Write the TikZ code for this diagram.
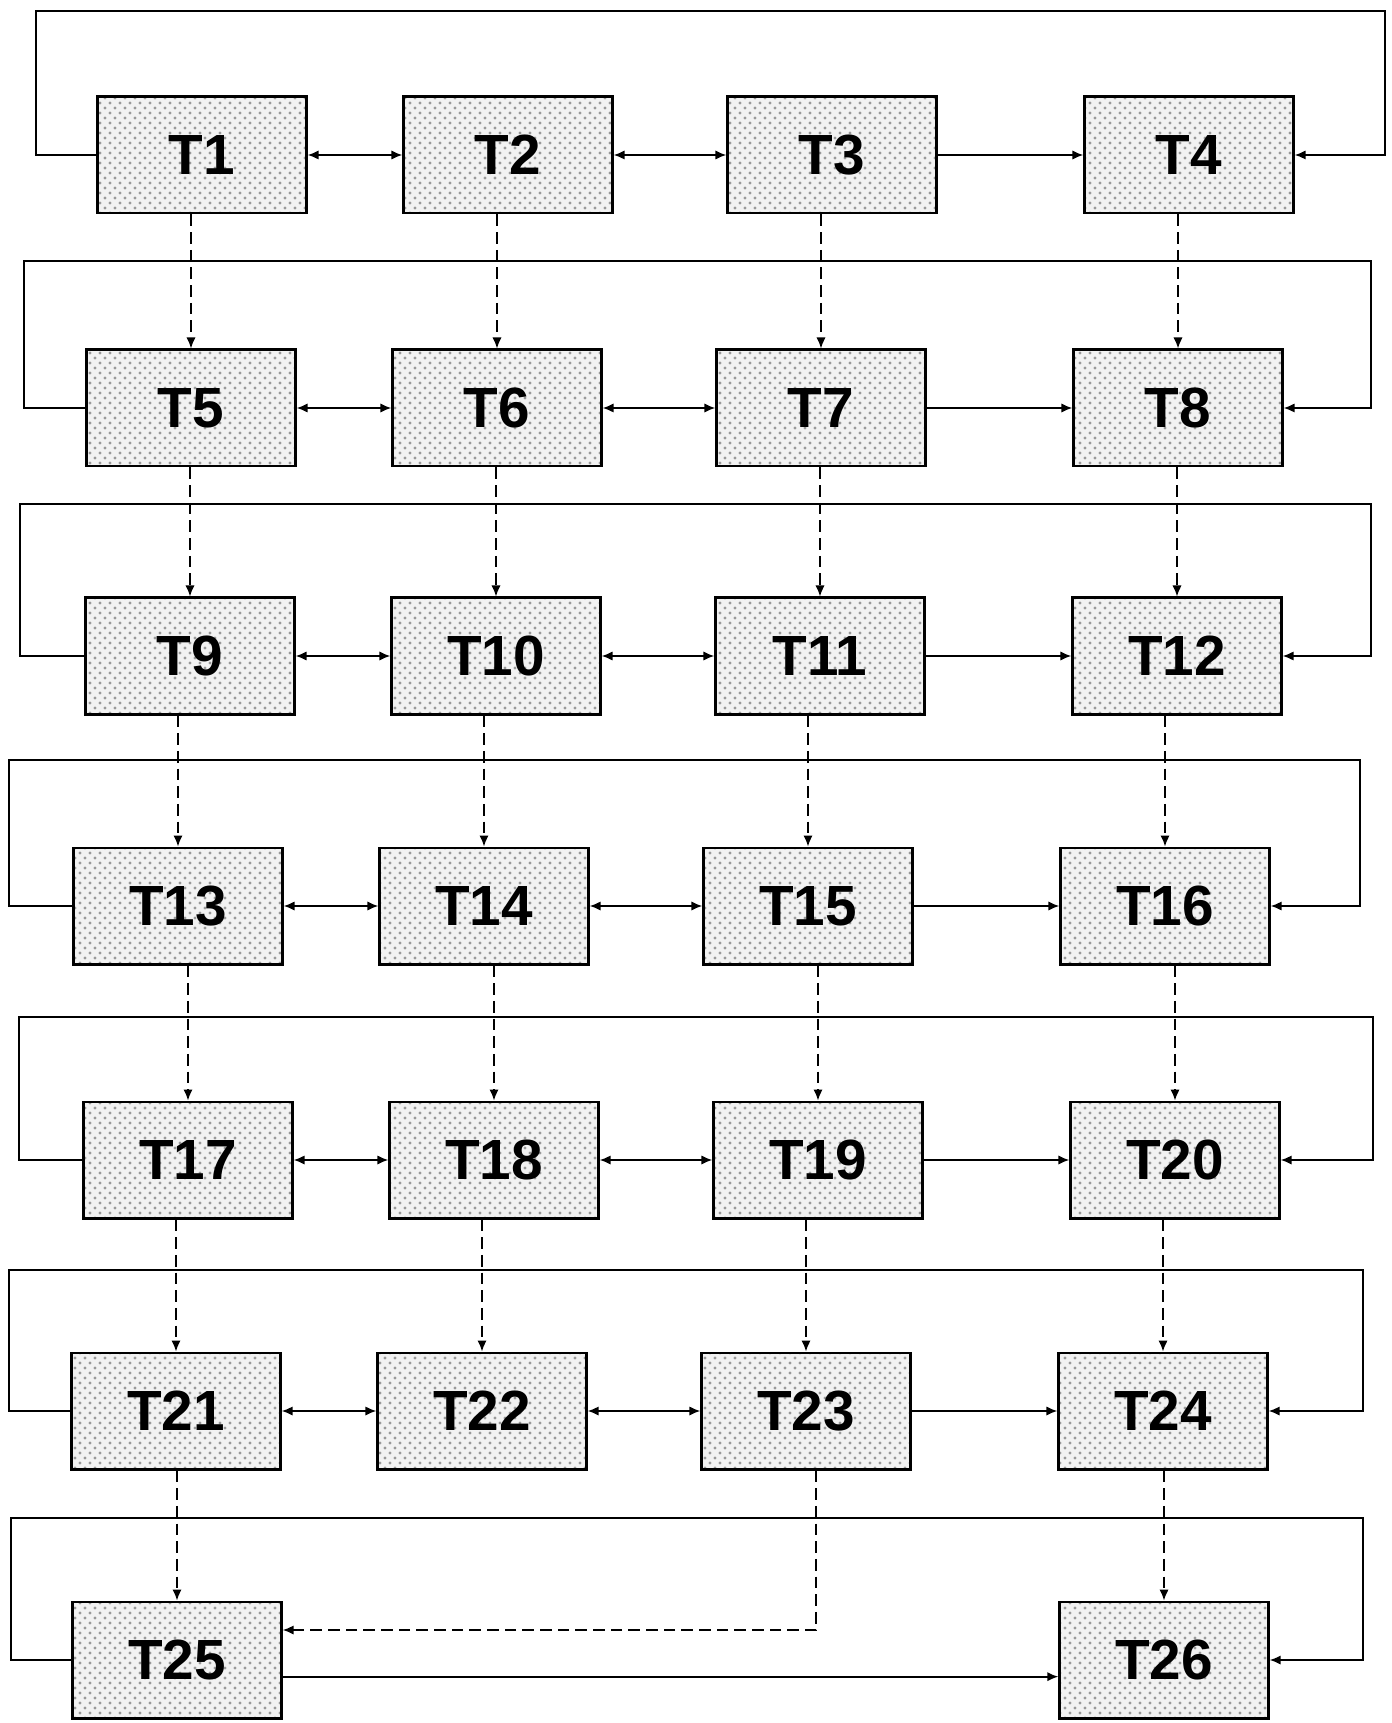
\documentclass[tikz,border=0pt]{standalone}
\usepackage{fontspec}
\setsansfont{Liberation Sans}
\usetikzlibrary{arrows.meta,patterns}

\tikzset{
  tbox/.style={draw, line width=0.7pt, preaction={fill=black!5},
    pattern=crosshatch dots, pattern color=black!40,
    minimum width=62.7pt, minimum height=35pt, inner sep=0pt,
    font=\sffamily\bfseries\fontsize{17}{17}\selectfont},
  link/.style={line width=0.5pt, -{Latex[length=3.3pt,width=2.8pt]}},
  both/.style={line width=0.5pt, {Latex[length=3.3pt,width=2.8pt]}-{Latex[length=3.3pt,width=2.8pt]}},
  flow/.style={line width=0.5pt, dash pattern=on 3.5pt off 1.8pt, -{Latex[length=3.3pt,width=2.8pt]}}
}

\begin{document}
\begin{tikzpicture}[x=0.3pt, y=-0.3pt]
  \useasboundingbox (0,0) rectangle (1391,1723);
  % Boxes, row by row: row / centre y / shift / left rail / right rail / top rail
  \foreach \r/\y/\dx/\lx/\rx/\ty in {1/155/15/36/1385/11, 2/408/4/24/1371/261,
      3/656/3/20/1371/504, 4/906/-9/9/1360/760, 5/1160/1/19/1373/1017,
      6/1411/-11/9/1363/1270} {
    \coordinate (L\r) at (\lx,\ty);
    \coordinate (R\r) at (\rx,\ty);
    \foreach \c/\cx in {1/187,2/493,3/817,4/1174} {
      \pgfmathtruncatemacro{\n}{4*(\r-1)+\c}
      \node[tbox] (T\n) at ({\cx+\dx},\y) {T\n};
    }
  }
  % Last row
  \coordinate (L7) at (11,1518);
  \coordinate (R7) at (1363,1518);
  \node[tbox] (T25) at (177,1660) {T25};
  \node[tbox] (T26) at (1164,1660) {T26};
  % Links inside each row and the loop round it
  \foreach \r in {1,...,6} {
    \pgfmathtruncatemacro{\na}{4*\r-3}
    \pgfmathtruncatemacro{\nb}{4*\r-2}
    \pgfmathtruncatemacro{\nc}{4*\r-1}
    \pgfmathtruncatemacro{\nd}{4*\r}
    \draw[both] (T\na.east) -- (T\nb.west);
    \draw[both] (T\nb.east) -- (T\nc.west);
    \draw[link] (T\nc.east) -- (T\nd.west);
    \draw[link] (T\na.west) -| (L\r) -- (R\r) |- (T\nd.east);
  }
  \draw[link] ([yshift=-5pt]T25.east) -- ([yshift=-5pt]T26.west);
  \draw[link] (T25.west) -| (L7) -- (R7) |- (T26.east);
  % Dashed links down the columns
  \foreach \n in {1,...,20} {
    \pgfmathtruncatemacro{\m}{\n+4}
    \draw[flow] (T\m.north |- T\n.south) -- (T\m.north);
  }
  \draw[flow] (T25.north |- T21.south) -- (T25.north);
  \draw[flow] (T26.north |- T24.south) -- (T26.north);
  \draw[flow] ([xshift=3pt]T23.south) |- ([yshift=9pt]T25.east);
\end{tikzpicture}
\end{document}
